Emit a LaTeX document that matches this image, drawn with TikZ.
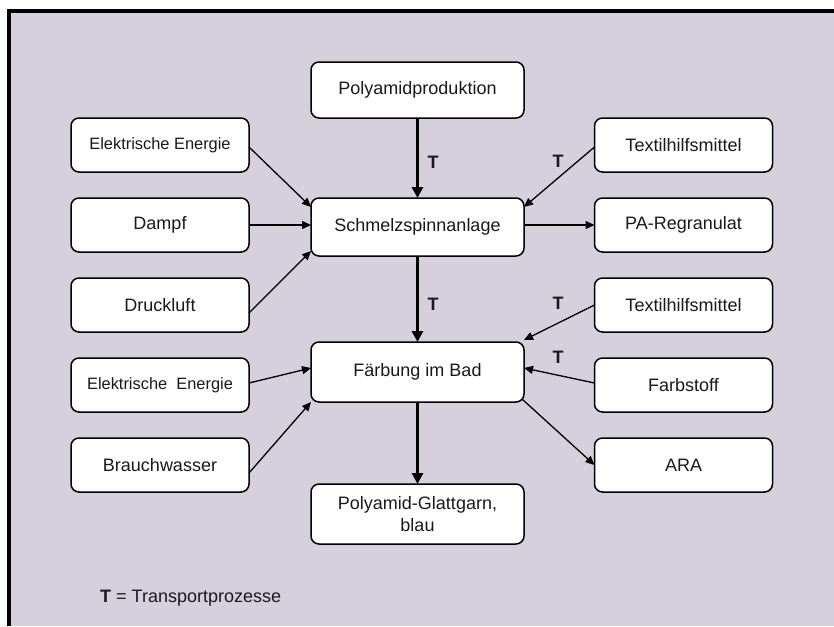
\documentclass[tikz,border=0pt]{standalone}
\usepackage{fontspec}
\setmainfont{Liberation Sans}
\usetikzlibrary{arrows.meta,calc}
\definecolor{bgc}{RGB}{214,208,220}
\definecolor{txt}{RGB}{25,25,25}
\begin{document}
\begin{tikzpicture}[x=1pt,y=-1pt,
  box/.style={draw=black,line width=1.5pt,fill=white,rounded corners=8pt,inner sep=0pt,outer sep=0pt,align=center,font=\fontsize{18}{22}\selectfont,text=txt},
  side/.style={box,minimum width=178pt,minimum height=54pt},
  small/.style={font=\fontsize{16.4}{20}\selectfont},
  mid/.style={box,minimum width=213pt},
  thinarr/.style={line width=1.3pt,-{Triangle[length=9pt,width=8pt]}},
  thickarr/.style={line width=3pt,-{Triangle[length=11pt,width=11pt]}},
  tlab/.style={font=\bfseries\fontsize{18}{20}\selectfont,text=txt,inner sep=0pt}
]
\useasboundingbox (0,0) rectangle (834,626);
\fill[white] (0,0) rectangle (834,626);
\fill[bgc] (9,11) rectangle (834,626);
\draw[line width=4pt] (9,626) -- (9,11) -- (834,11);

% centre column
\node[mid,minimum height=56pt] (pp) at (417.5,90) {Polyamidproduktion};
\node[mid,minimum height=58pt] (sp) at (417.5,227) {Schmelzspinnanlage};
\node[mid,minimum height=60pt] (fb) at (417.5,372) {Färbung im Bad};
\node[mid,minimum height=60pt] (gg) at (417.5,514) {Polyamid-Glattgarn,\\blau};

% left column
\node[side,small] (ee1) at (160,145) {Elektrische Energie};
\node[side] (da) at (160,225) {Dampf};
\node[side] (dl) at (160,305) {Druckluft};
\node[side,small] (ee2) at (160,385) {Elektrische\ \ Energie};
\node[side] (bw) at (160,465) {Brauchwasser};

% right column
\node[side] (th1) at (683.5,145) {Textilhilfsmittel};
\node[side] (pa) at (683.5,225) {PA-Regranulat};
\node[side] (th2) at (683.5,305) {Textilhilfsmittel};
\node[side] (fs) at (683.5,385) {Farbstoff};
\node[side] (ara) at (683.5,465) {ARA};

% main flow
\draw[thickarr] (pp.south) -- (sp.north);
\draw[thickarr] (sp.south) -- (fb.north);
\draw[thickarr] (fb.south) -- (gg.north);

% inputs to Schmelzspinnanlage
\draw[thinarr] ($(ee1.east)+(0,2)$) -- ($(sp.north west)+(0,9)$);
\draw[thinarr] (da.east) -- (sp.west |- da.east);
\draw[thinarr] ($(dl.east)+(0,8)$) -- ($(sp.south west)+(0,-5)$);
\draw[thinarr] ($(th1.west)+(0,2)$) -- ($(sp.north east)+(0,9)$);
\draw[thinarr] (sp.east |- pa.west) -- (pa.west);

% inputs to Färbung
\draw[thinarr] (th2.west) -- ($(fb.north east)+(0,-2)$);
\draw[thinarr] ($(fs.west)+(0,-2)$) -- ($(fb.north east)+(0,26)$);
\draw[thinarr] ($(fb.south east)+(-2,-3)$) -- (ara.west);
\draw[thinarr] ($(ee2.east)+(0,-2)$) -- ($(fb.north west)+(0,26)$);
\draw[thinarr] ($(bw.east)+(0,8)$) -- (fb.south west);

% T labels
\node[tlab] (t1) at (433,162) {T};
\node[tlab] (t2) at (558,161) {T};
\node[tlab] (t3) at (433,304) {T};
\node[tlab] (t4) at (558,303) {T};
\node[tlab] (t5) at (558,357) {T};

% legend
\node[anchor=west,inner sep=0pt,text=txt,font=\fontsize{18}{20}\selectfont] (leg) at (100,598) {\textbf{T} = Transportprozesse};
\end{tikzpicture}
\end{document}
